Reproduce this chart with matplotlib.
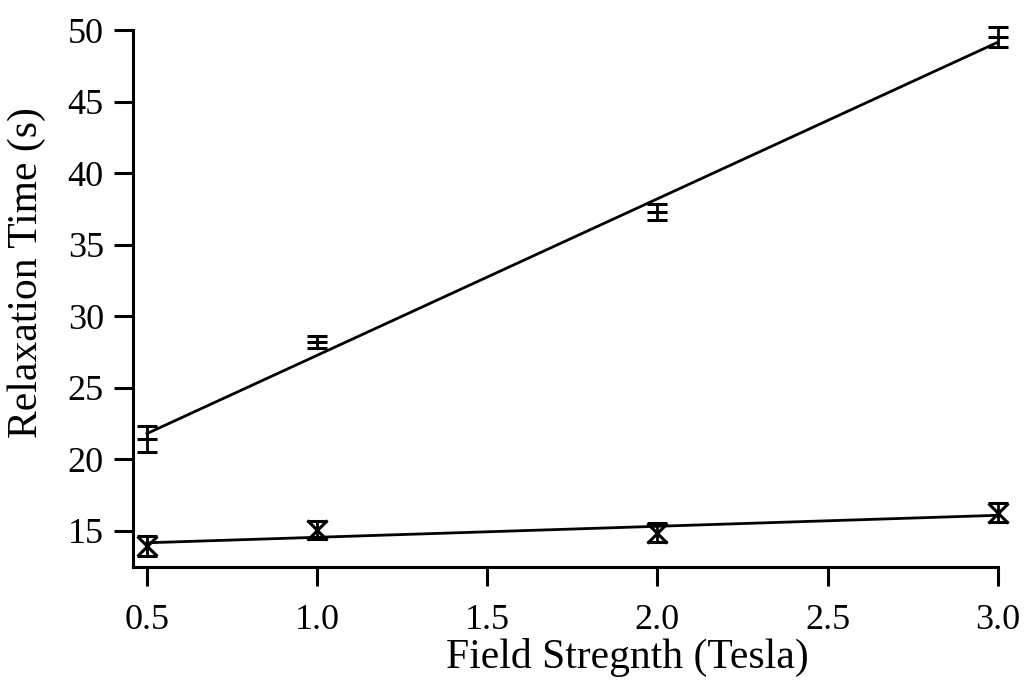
import numpy as np
import matplotlib.pyplot as plt

plt.rcParams['font.family'] = ['Liberation Serif', 'DejaVu Serif']

# 场强与弛豫时间
field = np.array([0.5, 1.0, 2.0, 3.0])
t_long = np.array([21.4, 28.2, 37.3, 49.5])
t_long_err = np.array([0.9, 0.4, 0.55, 0.7])
t_short = np.array([13.93, 15.05, 14.85, 16.25])
t_short_err = np.array([0.68, 0.66, 0.67, 0.66])

fig = plt.figure(figsize=(10.27, 6.83), dpi=100)
ax = fig.add_axes([0.1295, 0.170, 0.842, 0.786])

# 线性拟合
for y in (t_long, t_short):
    k, b = np.polyfit(field, y, 1)
    xs = np.array([field[0], field[-1]])
    ax.plot(xs, k * xs + b, color='k', lw=2.0, zorder=2)

style = dict(color='k', ms=14, mew=2.2, elinewidth=2.0, capsize=7,
             capthick=2.2, zorder=3, clip_on=False)
ax.errorbar(field, t_long, yerr=t_long_err, fmt='_', **style)
ax.errorbar(field, t_short, yerr=t_short_err, fmt='x', **style)

ax.set_xlim(0.459, 3.0)
ax.set_ylim(12.47, 50)
ax.set_xticks([0.5, 1.0, 1.5, 2.0, 2.5, 3.0])
ax.set_yticks([15, 20, 25, 30, 35, 40, 45, 50])
ax.xaxis.set_major_formatter(plt.FormatStrFormatter('%.1f'))

for s in ('top', 'right'):
    ax.spines[s].set_visible(False)
for s in ('left', 'bottom'):
    ax.spines[s].set_linewidth(2.2)
ax.tick_params(direction='out', length=14, width=2.2, labelsize=26)
ax.tick_params(axis='x', pad=13)
ax.tick_params(axis='y', pad=7)

ax.set_xlabel('Field Stregnth (Tesla)', fontsize=30)
ax.set_ylabel('Relaxation Time (s)', fontsize=30)
ax.xaxis.label.set_va('baseline')
ax.yaxis.label.set_va('baseline')
ax.xaxis.set_label_coords(0.572, -0.188)
ax.yaxis.set_label_coords(-0.111, 0.549)

fig.savefig('out.png', dpi=100)
